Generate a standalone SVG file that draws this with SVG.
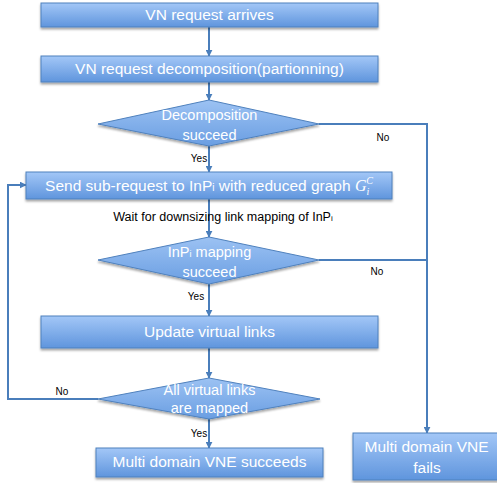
<svg xmlns="http://www.w3.org/2000/svg" width="497" height="483" viewBox="0 0 497 483">
<style>
.box{fill:url(#g);stroke:#4f81bd;stroke-width:1;filter:url(#sh)}
.dia{fill:url(#gd);stroke:#4f81bd;stroke-width:1;filter:url(#sh)}
.t{font-family:"Liberation Sans",Arial,sans-serif;fill:#fff;text-anchor:middle;font-size:15.5px}
.td{font-family:"Liberation Sans",Arial,sans-serif;fill:#fff;text-anchor:middle;font-size:14.5px}
.lbl{font-family:"Liberation Sans",Arial,sans-serif;fill:#000;text-anchor:middle;font-size:10px}
.c{fill:none;stroke:#4a7ebb;stroke-width:2}
</style>
<defs>
<linearGradient id="g" x1="0" y1="0" x2="0" y2="1">
<stop offset="0" stop-color="#a3c7f7"/>
<stop offset="1" stop-color="#5f95dd"/>
</linearGradient>
<linearGradient id="gd" x1="0" y1="0" x2="0" y2="1">
<stop offset="0" stop-color="#9cc2f3"/>
<stop offset="1" stop-color="#6a9ee2"/>
</linearGradient>
<filter id="sh" x="-10%" y="-20%" width="120%" height="150%">
<feDropShadow dx="0" dy="2" stdDeviation="1.2" flood-color="#000" flood-opacity="0.35"/>
</filter>
<marker id="a" viewBox="0 0 10 10" refX="9" refY="5" markerWidth="3.5" markerHeight="3.5" orient="auto">
<path d="M0,0 L10,5 L0,10 z" fill="#4a7ebb"/>
</marker>
</defs>

<g id="connectors">
<path class="c" d="M209,27 V56" marker-end="url(#a)"/>
<path class="c" d="M209,82 V100" marker-end="url(#a)"/>
<path class="c" d="M209,146 V172" marker-end="url(#a)"/>
<path class="c" d="M209,199 V237" marker-end="url(#a)"/>
<path class="c" d="M209,284 V316" marker-end="url(#a)"/>
<path class="c" d="M209,348 V378" marker-end="url(#a)"/>
<path class="c" d="M209,419 V448" marker-end="url(#a)"/>
<path class="c" d="M319,124 H427 V433" marker-end="url(#a)"/>
<path class="c" d="M319,260 H427"/>
<path class="c" d="M98,399 H8 V185 H26" marker-end="url(#a)"/>
<text class="lbl" x="383" y="141">No</text>
<text class="lbl" x="199" y="162">Yes</text>
<text class="lbl" x="196" y="300">Yes</text>
<text class="lbl" x="377" y="275">No</text>
<text class="lbl" x="62" y="395">No</text>
<text class="lbl" x="199" y="437">Yes</text>
<text class="lbl" x="223" y="221" style="font-size:12.5px">Wait for downsizing link mapping of InP<tspan style="font-size:8px">i</tspan></text>
</g>

<g id="n1">
<rect class="box" x="41" y="3" width="337" height="24"/>
<text class="t" x="209.5" y="20">VN request arrives</text>
</g>
<g id="n2">
<rect class="box" x="41" y="56" width="337" height="26"/>
<text class="t" x="209.5" y="74">VN request decomposition(partionning)</text>
</g>
<g id="n3">
<polygon class="dia" points="209,100 319,124 209,146 98,124"/>
<text class="td" x="209.5" y="120">Decomposition</text>
<text class="td" x="209.5" y="140">succeed</text>
</g>
<g id="n4">
<rect class="box" x="26" y="172" width="366" height="27"/>
<text class="t" x="209" y="191">Send sub-request to InP<tspan style="font-size:10px">i</tspan> with reduced graph <tspan style="font-family:'Liberation Serif',serif;font-style:italic;font-size:16px">G</tspan><tspan style="font-family:'Liberation Serif',serif;font-style:italic;font-size:10px" dy="4">i</tspan><tspan style="font-family:'Liberation Serif',serif;font-style:italic;font-size:10px" dx="-3" dy="-11">C</tspan></text>
</g>
<g id="n5">
<polygon class="dia" points="209,237 319,260 209,284 98,260"/>
<text class="td" x="209.5" y="257">InP<tspan style="font-size:9px">i</tspan> mapping</text>
<text class="td" x="209.5" y="277">succeed</text>
</g>
<g id="n6">
<rect class="box" x="41" y="316" width="337" height="32"/>
<text class="t" x="209.5" y="337">Update virtual links</text>
</g>
<g id="n7">
<polygon class="dia" points="209,378 320,399 209,419 98,399"/>
<text class="td" x="209.5" y="395">All virtual links</text>
<text class="td" x="209.5" y="413">are mapped</text>
</g>
<g id="n8">
<rect class="box" x="96" y="448" width="227" height="29"/>
<text class="t" x="209.5" y="467">Multi domain VNE succeeds</text>
</g>
<g id="n9">
<rect class="box" x="353" y="433" width="146" height="47"/>
<text class="t" x="426.5" y="452">Multi domain VNE</text>
<text class="t" x="427" y="473">fails</text>
</g>
</svg>
